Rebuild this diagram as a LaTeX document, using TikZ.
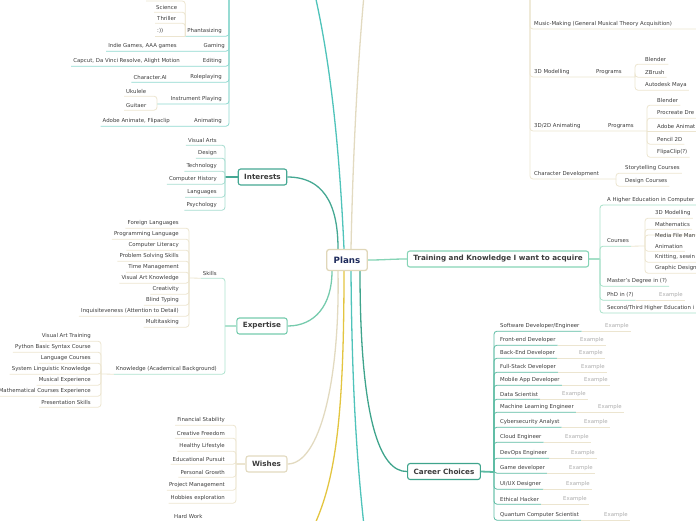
\documentclass[tikz,border=0pt]{standalone}
\usepackage{fontspec}
\setmainfont{DejaVu Sans}
\usetikzlibrary{calc,backgrounds}
\definecolor{txt}{HTML}{3C3C3C}
\definecolor{exgray}{HTML}{ABABAB}
\definecolor{tealMain}{HTML}{4FC3BA}
\definecolor{tealA}{HTML}{8FD8CF}
\definecolor{beigeMain}{HTML}{E2DAC0}
\definecolor{beigeL}{HTML}{ECE5D0}
\definecolor{intC}{HTML}{45A893}
\definecolor{intL}{HTML}{A6DCD0}
\definecolor{trainC}{HTML}{86D4B6}
\definecolor{trainL}{HTML}{A6E0C8}
\definecolor{expC}{HTML}{76CBAD}
\definecolor{expL}{HTML}{AEE2CE}
\definecolor{careerC}{HTML}{3FA48C}
\definecolor{careerL}{HTML}{5CBBA3}
\definecolor{yellowC}{HTML}{E3C540}
\definecolor{plansB}{HTML}{E0D7B9}
\definecolor{plansT}{HTML}{1E2B5C}
\begin{document}
\begin{tikzpicture}[x=1pt,y=-1pt,
  leaf/.style={font=\fontsize{5.4}{6}\selectfont, text=txt, inner xsep=2pt, inner ysep=1pt, minimum height=10pt},
  exlf/.style={leaf, text=exgray},
  topic/.style={draw, rounded corners=2.5pt, fill=white, line width=1.1pt, font=\bfseries\fontsize{7.2}{8}\selectfont, text=txt, inner xsep=6pt, minimum height=16pt},
  ul/.style={line width=0.8pt, rounded corners=3pt},
  stub/.style={line width=1.8pt},
  maincurve/.style={line width=1.3pt}
]
\useasboundingbox (0,0) rectangle (696,520);
\clip (0,0) rectangle (696,520);

% ---------- central and main topics ----------
\node[topic, draw=plansB, text=plansT, font=\bfseries\fontsize{8.7}{10}\selectfont, minimum height=21pt, inner xsep=7pt, line width=1.3pt] (plans) at (347,260) {Plans};
\node[topic, draw=intC] (int) at (262.5,177) {Interests};
\node[topic, draw=expC] (exp) at (262,326) {Expertise};
\node[topic, draw=beigeMain] (wis) at (266.5,464) {Wishes};
\node[topic, draw=trainC] (trn) at (498,259) {Training and Knowledge I want to acquire};
\node[topic, draw=careerC] (car) at (444,471.5) {Career Choices};
\coordinate (tlEnd) at (315,-5);
\coordinate (trEnd) at (364,-5);
\coordinate (ylEnd) at (314,526);
\coordinate (tbEnd) at (364,526);

% ---------- group A (top left) ----------
\coordinate (Abar) at (229,-10);
\node[leaf,anchor=east] (phan) at (224,31) {Phantasizing};
\node[leaf,anchor=west] (sci) at (154,7) {Science};
\node[leaf,anchor=west] (thr) at (155,18) {Thriller};
\node[leaf,anchor=west] (smile) at (155,31) {:))};
\coordinate (phtop) at (146,1);
\node[leaf,anchor=east] (gam) at (227,46) {Gaming};
\node[leaf,anchor=east] (indie) at (179,46) {Indie Games, AAA games};
\node[leaf,anchor=east] (edi) at (224,61) {Editing};
\node[leaf,anchor=east] (capcut) at (182,61) {Capcut, Da Vinci Resolve, Alight Motion};
\node[leaf,anchor=east] (role) at (224,77) {Roleplaying};
\node[leaf,anchor=east] (cai) at (169,77) {Character.AI};
\node[leaf,anchor=east] (inst) at (224,99) {Instrument Playing};
\coordinate (instbr) at (157,104);
\node[leaf,anchor=west] (uku) at (124,91) {Ukulele};
\node[leaf,anchor=west] (gui) at (124,105) {Guitaer};
\node[leaf,anchor=east] (anim) at (224,121) {Animating};
\node[leaf,anchor=east] (adobe) at (172,121) {Adobe Animate, Flipaclip};

% ---------- group B (top right) ----------
\coordinate (Bbar) at (530,-10);
\node[leaf,anchor=west] (music) at (532,24) {Music-Making (General Musical Theory Acquisition)};
\coordinate (musicend) at (700,29);
\node[leaf,anchor=west] (m3d) at (532,72) {3D Modelling};
\node[leaf,anchor=west] (prog1) at (594,72) {Programs};
\coordinate (br1) at (635,77);
\node[leaf,anchor=west] (bl1) at (643,59) {Blender};
\node[leaf,anchor=west] (zb) at (643,72) {ZBrush};
\node[leaf,anchor=west] (maya) at (643,85) {Autodesk Maya};
\node[leaf,anchor=west] (a3d) at (532,126) {3D/2D Animating};
\node[leaf,anchor=west] (prog2) at (606,126) {Programs};
\coordinate (br2) at (647,131);
\coordinate (br2end) at (700,131);
\node[leaf,anchor=west] (bl2) at (655,100) {Blender};
\node[leaf,anchor=west] (proc) at (655,113) {Procreate Dre};
\node[leaf,anchor=west] (adan) at (655,126) {Adobe Animat};
\node[leaf,anchor=west] (pen) at (655,139) {Pencil 2D};
\node[leaf,anchor=west] (flip) at (655,152) {FlipaClip(?)};
\node[leaf,anchor=west] (chd) at (532,174) {Character Development};
\coordinate (br3) at (616,179);
\node[leaf,anchor=west] (story) at (623,168) {Storytelling Courses};
\node[leaf,anchor=west] (desc) at (623,181) {Design Courses};

% ---------- group C (training) ----------
\coordinate (Cbar) at (600,259);
\node[leaf,anchor=west] (hed) at (605,200) {A Higher Education in Computer};
\coordinate (hedend) at (700,205);
\node[leaf,anchor=west] (crs) at (605,241) {Courses};
\coordinate (br4) at (645,246);
\coordinate (k0end) at (700,235);
\node[leaf,anchor=west] (k1) at (653,213) {3D Modelling};
\node[leaf,anchor=west] (k2) at (653,224) {Mathematics};
\node[leaf,anchor=west] (k3) at (653,235) {Media File Man};
\node[leaf,anchor=west] (k4) at (653,246) {Animation};
\node[leaf,anchor=west] (k5) at (653,257) {Knitting, sewin};
\node[leaf,anchor=west] (k6) at (653,268) {Graphic Design};
\node[leaf,anchor=west] (mas) at (605,281) {Master's Degree in (?)};
\node[leaf,anchor=west] (phd) at (605,295) {PhD in (?)};
\node[exlf,anchor=west] (phdex) at (657,295) {Example};
\node[leaf,anchor=west] (sec) at (605,308) {Second/Third Higher Education i};
\coordinate (secend) at (700,313);

% ---------- group D (career) ----------
\coordinate (Dbar) at (494,472);
\node[leaf,anchor=west] (c1) at (498,326) {Software Developer/Engineer};
\node[exlf,anchor=west] (e1) at (603,326) {Example};
\node[leaf,anchor=west] (c2) at (498,340) {Front-end Developer};
\node[exlf,anchor=west] (e2) at (578,340) {Example};
\node[leaf,anchor=west] (c3) at (498,353) {Back-End Developer};
\node[exlf,anchor=west] (e3) at (577,353) {Example};
\node[leaf,anchor=west] (c4) at (498,367) {Full-Stack Developer};
\node[exlf,anchor=west] (e4) at (579,367) {Example};
\node[leaf,anchor=west] (c5) at (498,380) {Mobile App Developer};
\node[exlf,anchor=west] (e5) at (582,380) {Example};
\node[leaf,anchor=west] (c6) at (498,394) {Data Scientist};
\node[exlf,anchor=west] (e6) at (560,394) {Example};
\node[leaf,anchor=west] (c7) at (498,407) {Machine Learning Engineer};
\node[exlf,anchor=west] (e7) at (596,407) {Example};
\node[leaf,anchor=west] (c8) at (498,422) {Cybersecurity Analyst};
\node[exlf,anchor=west] (e8) at (582,422) {Example};
\node[leaf,anchor=west] (c9) at (498,437) {Cloud Engineer};
\node[exlf,anchor=west] (e9) at (563,437) {Example};
\node[leaf,anchor=west] (c10) at (498,453) {DevOps Engineer};
\node[exlf,anchor=west] (e10) at (569,453) {Example};
\node[leaf,anchor=west] (c11) at (498,468) {Game developer};
\node[exlf,anchor=west] (e11) at (567,468) {Example};
\node[leaf,anchor=west] (c12) at (498,484) {UI/UX Designer};
\node[exlf,anchor=west] (e12) at (564,484) {Example};
\node[leaf,anchor=west] (c13) at (498,499) {Ethical Hacker};
\node[exlf,anchor=west] (e13) at (561,499) {Example};
\node[leaf,anchor=west] (c14) at (498,515) {Quantum Computer Scientist};
\node[exlf,anchor=west] (e14) at (602,515) {Example};

% ---------- group E (interests) ----------
\coordinate (Ebar) at (225,177);
\node[leaf,anchor=east] (i1) at (219,140) {Visual Arts};
\node[leaf,anchor=east] (i2) at (219,153) {Design};
\node[leaf,anchor=east] (i3) at (219,166) {Technology};
\node[leaf,anchor=east] (i4) at (219,179) {Computer History};
\node[leaf,anchor=east] (i5) at (219,192) {Languages};
\node[leaf,anchor=east] (i6) at (219,205) {Psychology};

% ---------- group F (expertise) ----------
\coordinate (Fbar) at (225,326);
\node[leaf,anchor=east] (skl) at (219,273) {Skills};
\coordinate (brS) at (189,278);
\node[leaf,anchor=east] (s1) at (181,223) {Foreign Languages};
\node[leaf,anchor=east] (s2) at (181,234) {Programming Language};
\node[leaf,anchor=east] (s3) at (181,245) {Computer Literacy};
\node[leaf,anchor=east] (s4) at (181,256) {Problem Solving Skills};
\node[leaf,anchor=east] (s5) at (181,267) {Time Management};
\node[leaf,anchor=east] (s6) at (181,278) {Visual Art Knowledge};
\node[leaf,anchor=east] (s7) at (181,289) {Creativity};
\node[leaf,anchor=east] (s8) at (181,300) {Blind Typing};
\node[leaf,anchor=east] (s9) at (181,311) {Inquisiteveness (Attention to Detail)};
\node[leaf,anchor=east] (s10) at (181,322) {Multitasking};
\node[leaf,anchor=east] (know) at (219,369) {Knowledge (Academical Background)};
\coordinate (brK) at (101,374);
\node[leaf,anchor=east] (n1) at (93,336) {Visual Art Training};
\node[leaf,anchor=east] (n2) at (93,347) {Python Basic Syntax Course};
\node[leaf,anchor=east] (n3) at (93,358) {Language Courses};
\node[leaf,anchor=east] (n4) at (93,369) {System Linguistic Knowledge};
\node[leaf,anchor=east] (n5) at (93,380) {Musical Experience};
\node[leaf,anchor=east] (n6) at (93,391) {Mathematical Courses Experience};
\node[leaf,anchor=east] (n7) at (93,402) {Presentation Skills};

% ---------- group G (wishes) ----------
\coordinate (Gbar) at (236,464);
\node[leaf,anchor=east] (w1) at (227,420) {Financial Stability};
\node[leaf,anchor=east] (w2) at (227,433) {Creative Freedom};
\node[leaf,anchor=east] (w3) at (227,446) {Healthy Lifestyle};
\node[leaf,anchor=east] (w4) at (227,459) {Educational Pursuit};
\node[leaf,anchor=east] (w5) at (227,472) {Personal Growth};
\node[leaf,anchor=east] (w6) at (227,485) {Project Management};
\node[leaf,anchor=east] (w7) at (227,498) {Hobbies exploration};
\node[leaf,anchor=west] (hw) at (172,516) {Hard Work};

\begin{scope}[on background layer]
% main curves
\draw[maincurve, tealMain] ($(plans.north)+(-3,0)$) .. controls (340,160) and (332,70) .. (tlEnd);
\draw[maincurve, beigeMain] ($(plans.north)+(4,0)$) .. controls (353,150) and (358,60) .. (trEnd);
\draw[maincurve, intC] ($(plans.north)+(-9,0)$) .. controls (338,215) and (330,177) .. (int.east);
\draw[maincurve, trainC] (plans.east) .. controls (385,260) and (390,259) .. (trn.west);
\draw[maincurve, expC] ($(plans.south)+(-15,0)$) .. controls (332,305) and (315,326) .. (exp.east);
\draw[maincurve, beigeMain] ($(plans.south)+(-9,0)$) .. controls (340,380) and (320,464) .. (wis.east);
\draw[maincurve, yellowC] ($(plans.south)+(-3,0)$) .. controls (344,420) and (335,480) .. (ylEnd);
\draw[maincurve, tealMain] ($(plans.south)+(4,0)$) .. controls (352,400) and (358,470) .. (tbEnd);
\draw[maincurve, careerC] ($(plans.south)+(13,0)$) .. controls (360,420) and (380,472) .. (car.west);

% group A
\draw[ul, tealA] (Abar) |- (phan.south west);
\draw[ul, beigeL] (phan.south west) -- (smile.south west);
\draw[ul, beigeL] (phan.south west) |- (thr.south west);
\draw[ul, beigeL] (phan.south west) |- (sci.south west);
\draw[ul, beigeL] (phan.south west) |- (phtop);
\draw[ul, tealA] (Abar) |- (indie.south west);
\draw[ul, tealA] (Abar) |- (capcut.south west);
\draw[ul, tealA] (Abar) |- (cai.south west);
\draw[ul, tealA] (Abar) |- (instbr);
\draw[ul, beigeL] (instbr) |- (uku.south west);
\draw[ul, beigeL] (instbr) |- (gui.south west);
\draw[ul, tealA] (Abar) |- (adobe.south west);

% group B
\draw[ul, beigeL] (Bbar) |- (musicend);
\draw[ul, beigeL] (Bbar) |- (br1);
\draw[ul, beigeL] (br1) |- (bl1.south east);
\draw[ul, beigeL] (br1) |- (zb.south east);
\draw[ul, beigeL] (br1) |- (maya.south east);
\draw[ul, beigeL] (Bbar) |- (br2);
\draw[ul, beigeL] (br2) |- (bl2.south east);
\draw[ul, beigeL] (br2) |- ($(proc.south east)+(5,0)$);
\draw[ul, beigeL] (br2) -- (br2end);
\draw[ul, beigeL] (br2) |- (pen.south east);
\draw[ul, beigeL] (br2) |- (flip.south east);
\draw[ul, beigeL] (Bbar) |- (br3);
\draw[ul, beigeL] (br3) |- (story.south east);
\draw[ul, beigeL] (br3) |- (desc.south east);

% group C
\draw[stub, trainL] (trn.east) -- (Cbar);
\draw[ul, trainL] (Cbar) |- (hedend);
\draw[ul, trainL] (Cbar) |- (crs.south east);
\draw[ul, beigeL] (crs.south east) -- (br4);
\foreach \k in {k1,k2,k4,k6} { \draw[ul, beigeL] (br4) |- (\k.south east); }
\draw[ul, beigeL] (br4) |- (k0end);
\draw[ul, beigeL] (br4) |- ($(k5.south east)+(5,0)$);
\draw[ul, trainL] (Cbar) |- (mas.south east);
\draw[ul, trainL] (Cbar) |- (phd.south east);
\draw[ul, beigeL] (phd.south east) -- (phdex.south east);
\draw[ul, trainL] (Cbar) |- (secend);

% group D
\draw[stub, careerL] (car.east) -- (Dbar);
\foreach \i in {1,...,14} {
  \draw[ul, careerL] (Dbar) |- (c\i.south east);
  \draw[ul, beigeL] (c\i.south east) -- (e\i.south east);
}

% group E
\draw[stub, intC] (int.west) -- (Ebar);
\foreach \k in {i1,i2,i3,i4,i5,i6} { \draw[ul, intL] (Ebar) |- (\k.south west); }

% group F
\draw[stub, expL] (exp.west) -- (Fbar);
\draw[ul, expL] (Fbar) |- (skl.south west);
\draw[ul, beigeL] (skl.south west) -- (brS);
\foreach \k in {s1,s2,s3,s4,s5,s6,s7,s8,s9,s10} { \draw[ul, beigeL] (brS) |- (\k.south west); }
\draw[ul, expL] (Fbar) |- (know.south west);
\draw[ul, beigeL] (know.south west) -- (brK);
\foreach \k in {n1,n2,n3,n4,n5,n6,n7} { \draw[ul, beigeL] (brK) |- (\k.south west); }

% group G
\draw[stub, beigeL] (wis.west) -- (Gbar);
\foreach \k in {w1,w2,w3,w4,w5,w6,w7} { \draw[ul, beigeL] (Gbar) |- (\k.south west); }
\end{scope}
\end{tikzpicture}
\end{document}
